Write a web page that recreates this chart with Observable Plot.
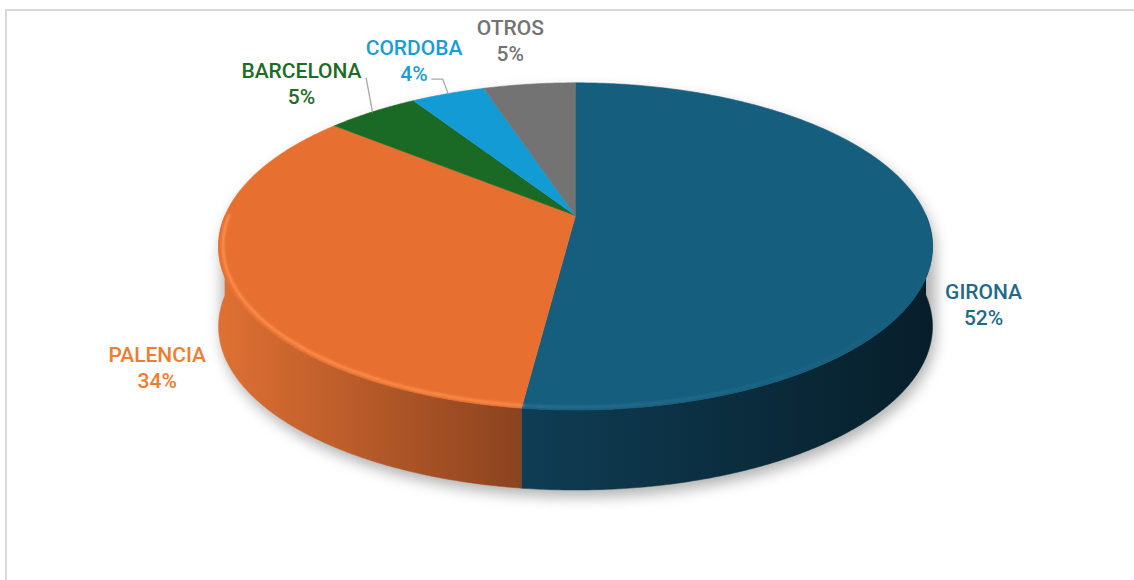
<!DOCTYPE html>
<html><head><meta charset="utf-8">
<script src="https://cdn.jsdelivr.net/npm/d3@7"></script>
<script src="https://cdn.jsdelivr.net/npm/@observablehq/plot@0.6"></script>
<style>
html,body{margin:0;padding:0;background:#fff;}
#wrap{position:relative;width:1134px;height:580px;overflow:hidden;}
#frame{position:absolute;left:5px;top:9px;width:1200px;height:700px;border-left:2px solid #d9d9d9;border-top:2px solid #d9d9d9;pointer-events:none;}
.shadow{filter:url(#pieShadowBlur);}
.rim{filter:url(#rimBlur);}
</style></head><body><div id="wrap"></div>
<script>
// ---- data ----
const categories = ["GIRONA", "PALENCIA", "BARCELONA", "CORDOBA", "OTROS"];
const values = [52, 34, 5, 4, 5];
const percentLabels = ["52%", "34%", "5%", "4%", "5%"];

// ---- styles ----
const topColors = ["#165e7e", "#e77030", "#1a6a25", "#129bd5", "#737373"];
const sideColors = [["#0f3d54", "#071e2a"], ["#df7033", "#8b431f"], ["#14521c", "#0c3511"], ["#0e78a6", "#08506f"], ["#5a5a5a", "#3a3a3a"]];
const rimColors = [["#3583a6", 0.55, 0], ["#ff9150", 1, 0.85], ["#2a8236", 0.6, 0.3], ["#3bb2e6", 0.6, 0.3], ["#8c8c8c", 0.6, 0.3]];
const labelColors = ["#1f6a8b", "#ed7d31", "#1e6b27", "#1a9cd8", "#737373"];

// ---- layout ----
const W = 1134, HGT = 580;
const TILT_SIN = 0.45, TILT_COS = Math.sqrt(1 - TILT_SIN * TILT_SIN);
const DIST = 4.724, K = 1656, CX = 575, CY = 215;
const THICK_PX = 80;
// label nudges (pixels) from the rim point at each slice's mid angle
const labelNudge = [[54, 78], [-68, 89], [-71, -29.5], [-34, -34], [-19, -45]];
// leader-line elbows relative to the label centre (pixels); null = no leader
const leaderEnds = [null, null, [[64.7, -4.3]], [[28.7, 19.5], [17.7, 19.5]], null];

function proj(t, r, down = 0) {
  const X = r * Math.sin(t), D = r * Math.cos(t);
  const yc = D * TILT_SIN;
  const zc = DIST + D * TILT_COS;
  return {x: X / zc, y: yc / zc - down / K};
}
function arc(a0, a1, r, down = 0) {
  const n = Math.max(2, Math.ceil((a1 - a0) / (Math.PI / 360)));
  return d3.range(n + 1).map(k => proj(a0 + (a1 - a0) * k / n, r, down));
}
const total = d3.sum(values);
let cum = 0;
const slices = categories.map((c, i) => {
  const a0 = 2 * Math.PI * cum / total; cum += values[i];
  const a1 = 2 * Math.PI * cum / total;
  return {i, c, a0, a1, mid: (a0 + a1) / 2};
});

const marks = [];
// shadow
const hullPts = [...arc(0, 2 * Math.PI, 1, 0), ...arc(0, 2 * Math.PI, 1, THICK_PX)].map(p => [p.x, p.y]);
const hull = d3.polygonHull(hullPts).map(([x, y]) => ({x: x + 3 / K, y: y - 7 / K}));
marks.push(Plot.line(hull, {x: "x", y: "y", fill: "#000", fillOpacity: 0.3, stroke: "none", className: "shadow"}));

// sides (front half only)
const sideExtents = [];
for (const s of slices) {
  const s0 = Math.max(s.a0, Math.PI / 2), s1 = Math.min(s.a1, 3 * Math.PI / 2);
  if (s0 >= s1) continue;
  const poly = [...arc(s0, s1, 1, 0), ...arc(s0, s1, 1, THICK_PX).reverse()];
  sideExtents.push({i: s.i, xmin: d3.min(poly, p => p.x), xmax: d3.max(poly, p => p.x)});
  marks.push(Plot.line(poly, {x: "x", y: "y", fill: `url(#side${s.i})`, stroke: `url(#side${s.i})`, strokeWidth: 0.5}));
}
// top faces
for (const s of slices) {
  const poly = [proj(0, 0), ...arc(s.a0, s.a1, 1)];
  marks.push(Plot.line(poly, {x: "x", y: "y", fill: topColors[s.i], stroke: topColors[s.i], strokeWidth: 0.6}));
}
// rim highlight on front edge
for (const s of slices) {
  const s0 = Math.max(s.a0, Math.PI * 0.5), s1 = Math.min(s.a1, Math.PI * 1.5);
  if (s0 >= s1) continue;
  marks.push(Plot.line(arc(s0, s1, 0.988), {x: "x", y: "y", stroke: `url(#rim${s.i})`, strokeWidth: 2.6, className: "rim"}));
}
// labels & leaders
const labelData = slices.map(s => {
  const rim = proj(s.mid, 1);
  const [dx, dy] = labelNudge[s.i];
  return {i: s.i, rim, x: rim.x + dx / K, y: rim.y - dy / K, text: categories[s.i] + "\n" + percentLabels[s.i]};
});
for (const d of labelData) {
  const ends = leaderEnds[d.i];
  if (!ends) continue;
  const pts = [d.rim, ...ends.map(([dx, dy]) => ({x: d.x + dx / K, y: d.y - dy / K}))];
  marks.push(Plot.line(pts, {x: "x", y: "y", stroke: "#a6a6a6", strokeWidth: 1.3}));
}
for (const d of labelData) {
  marks.push(Plot.text([d], {x: "x", y: "y", text: "text", fill: labelColors[d.i], fontSize: 21, fontWeight: 500, lineAnchor: "middle", lineHeight: 1.24, textAnchor: "middle"}));
}

const chart = Plot.plot({
  width: W, height: HGT, margin: 0,
  style: {fontFamily: "Roboto, sans-serif", background: "transparent", overflow: "visible"},
  x: {type: "linear", domain: [-CX / K, (W - CX) / K], range: [0, W], axis: null},
  y: {type: "linear", domain: [CY / K, (CY - HGT) / K], range: [0, HGT], axis: null},
  marks
});
const xs = chart.scale("x");
const svg = d3.select(chart);
const defs = svg.insert("defs", ":first-child");
const f = defs.append("filter").attr("id", "pieShadowBlur").attr("x", "-20%").attr("y", "-20%").attr("width", "140%").attr("height", "140%");
f.append("feGaussianBlur").attr("stdDeviation", 7);
const f2 = defs.append("filter").attr("id", "rimBlur").attr("x", "-5%").attr("y", "-5%").attr("width", "110%").attr("height", "110%");
f2.append("feGaussianBlur").attr("stdDeviation", 1);
for (const e of sideExtents) {
  const g = defs.append("linearGradient").attr("id", `side${e.i}`).attr("gradientUnits", "userSpaceOnUse")
    .attr("x1", xs.apply(e.xmin)).attr("x2", xs.apply(e.xmax)).attr("y1", 0).attr("y2", 0);
  g.append("stop").attr("offset", 0).attr("stop-color", sideColors[e.i][0]);
  g.append("stop").attr("offset", 1).attr("stop-color", sideColors[e.i][1]);
  const [rc, o0, o1] = rimColors[e.i];
  const r = defs.append("linearGradient").attr("id", `rim${e.i}`).attr("gradientUnits", "userSpaceOnUse")
    .attr("x1", xs.apply(e.xmin)).attr("x2", xs.apply(e.xmax)).attr("y1", 0).attr("y2", 0);
  r.append("stop").attr("offset", 0).attr("stop-color", rc).attr("stop-opacity", o0);
  r.append("stop").attr("offset", 1).attr("stop-color", rc).attr("stop-opacity", o1);
}
const wrap = document.getElementById("wrap");
wrap.appendChild(chart);
const frame = document.createElement("div");
frame.id = "frame";
wrap.appendChild(frame);
</script>
</body></html>
